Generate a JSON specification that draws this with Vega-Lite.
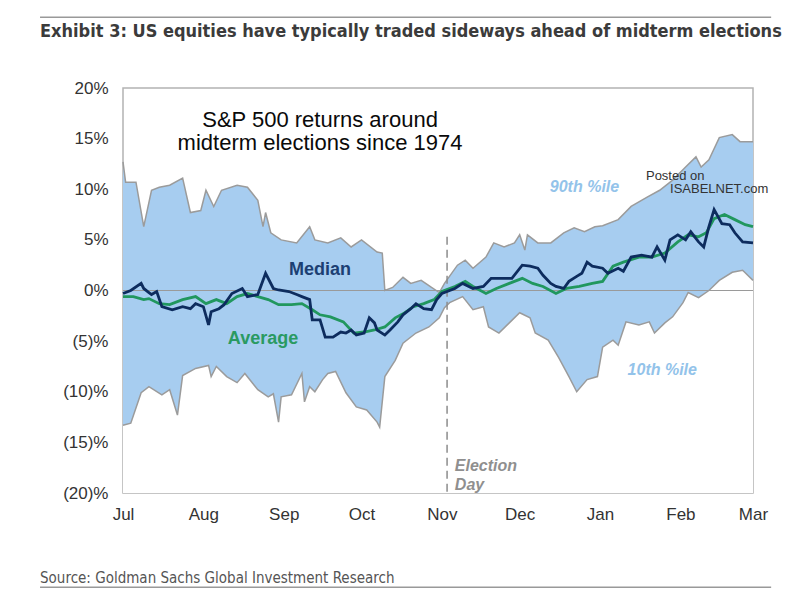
{
  "$schema": "https://vega.github.io/schema/vega-lite/v6.json",
  "width": 630,
  "height": 405,
  "autosize": {"type": "none"},
  "padding": {"left": 123, "top": 88, "right": 47, "bottom": 103},
  "background": "white",
  "data": {"values": [{}]},
  "config": {
    "view": {"stroke": "#b3b3b3", "strokeWidth": 1.5},
    "text": {"font": "Liberation Sans"}
  },
  "layer": [
    {
      "data": {
        "format": {"parse": {"date": "date:'%Y-%m-%d'"}},
        "values": [
          {"date": "2022-07-01", "v": 12.7}, {"date": "2022-07-02", "v": 10.7}, {"date": "2022-07-06", "v": 10.7},
          {"date": "2022-07-09", "v": 6.3}, {"date": "2022-07-12", "v": 9.9}, {"date": "2022-07-15", "v": 10.2},
          {"date": "2022-07-19", "v": 10.4}, {"date": "2022-07-24", "v": 11.1}, {"date": "2022-07-27", "v": 7.7},
          {"date": "2022-07-31", "v": 7.9}, {"date": "2022-08-02", "v": 9.9}, {"date": "2022-08-05", "v": 8.3},
          {"date": "2022-08-08", "v": 9.9}, {"date": "2022-08-14", "v": 10.4}, {"date": "2022-08-18", "v": 10.2},
          {"date": "2022-08-22", "v": 8.9}, {"date": "2022-08-24", "v": 6.3}, {"date": "2022-08-25", "v": 7.7},
          {"date": "2022-08-27", "v": 5.7}, {"date": "2022-08-31", "v": 5.0}, {"date": "2022-09-06", "v": 4.7},
          {"date": "2022-09-11", "v": 6.3}, {"date": "2022-09-13", "v": 5.0}, {"date": "2022-09-18", "v": 4.7},
          {"date": "2022-09-23", "v": 5.2}, {"date": "2022-09-27", "v": 4.3}, {"date": "2022-10-01", "v": 5.0},
          {"date": "2022-10-07", "v": 3.8}, {"date": "2022-10-09", "v": 3.7}, {"date": "2022-10-10", "v": 0.0},
          {"date": "2022-10-13", "v": 0.3}, {"date": "2022-10-17", "v": 1.3}, {"date": "2022-10-20", "v": 0.7},
          {"date": "2022-10-24", "v": 1.0}, {"date": "2022-10-28", "v": 0.3}, {"date": "2022-10-31", "v": -0.2},
          {"date": "2022-11-02", "v": 0.7}, {"date": "2022-11-07", "v": 2.5}, {"date": "2022-11-10", "v": 3.0},
          {"date": "2022-11-13", "v": 2.2}, {"date": "2022-11-18", "v": 3.3}, {"date": "2022-11-21", "v": 4.7},
          {"date": "2022-11-25", "v": 4.3}, {"date": "2022-11-29", "v": 4.7}, {"date": "2022-12-01", "v": 5.5},
          {"date": "2022-12-03", "v": 4.0}, {"date": "2022-12-04", "v": 5.5}, {"date": "2022-12-08", "v": 4.7},
          {"date": "2022-12-13", "v": 4.7}, {"date": "2022-12-18", "v": 5.7}, {"date": "2022-12-22", "v": 6.2},
          {"date": "2022-12-26", "v": 5.8}, {"date": "2022-12-30", "v": 6.3}, {"date": "2023-01-02", "v": 6.4},
          {"date": "2023-01-08", "v": 7.0}, {"date": "2023-01-13", "v": 8.3}, {"date": "2023-01-19", "v": 9.2},
          {"date": "2023-01-24", "v": 9.9}, {"date": "2023-01-29", "v": 10.9}, {"date": "2023-02-03", "v": 12.2},
          {"date": "2023-02-07", "v": 13.2}, {"date": "2023-02-09", "v": 12.2}, {"date": "2023-02-12", "v": 12.9},
          {"date": "2023-02-16", "v": 15.1}, {"date": "2023-02-21", "v": 15.4}, {"date": "2023-02-24", "v": 14.7},
          {"date": "2023-03-01", "v": 14.7}
        ]
      },
      "encoding": {
        "x": {
          "field": "date",
          "type": "temporal",
          "scale": {"domain": [{"year": 2022, "month": 7, "date": 1}, {"year": 2023, "month": 3, "date": 1}]},
          "axis": {
            "title": null,
            "format": "%b",
            "values": [
              {"year": 2022, "month": 7, "date": 1}, {"year": 2022, "month": 8, "date": 1},
              {"year": 2022, "month": 9, "date": 1}, {"year": 2022, "month": 10, "date": 1},
              {"year": 2022, "month": 11, "date": 1}, {"year": 2022, "month": 12, "date": 1},
              {"year": 2023, "month": 1, "date": 1}, {"year": 2023, "month": 2, "date": 1},
              {"year": 2023, "month": 3, "date": 1}
            ],
            "ticks": false,
            "domain": false,
            "grid": false,
            "labelFlush": false,
            "labelOverlap": false,
            "labelFont": "Liberation Sans",
            "labelFontSize": 17,
            "labelColor": "#333333",
            "labelPadding": 13
          }
        },
        "y": {
          "field": "v",
          "type": "quantitative",
          "scale": {"domain": [-20, 20], "nice": false, "zero": false},
          "axis": {
            "title": null,
            "values": [-20, -15, -10, -5, 0, 5, 10, 15, 20],
            "labelExpr": "datum.value < 0 ? '(' + abs(datum.value) + ')%' : datum.value + '%'",
            "ticks": false,
            "domain": false,
            "grid": false,
            "labelFont": "Liberation Sans",
            "labelFontSize": 17,
            "labelColor": "#333333",
            "labelPadding": 15
          }
        }
      },
      "layer": [
        {"mark": {"type": "area", "color": "#a7cdf0"}, "encoding": {"y2": {"datum": -20}}},
        {"mark": {"type": "line", "color": "#9b9b9b", "strokeWidth": 1.5}, "encoding": {}}
      ]
    },
    {
      "data": {
        "format": {"parse": {"date": "date:'%Y-%m-%d'"}},
        "values": [
          {"date": "2022-07-01", "v": -13.3}, {"date": "2022-07-04", "v": -13.1}, {"date": "2022-07-08", "v": -10.1},
          {"date": "2022-07-11", "v": -9.5}, {"date": "2022-07-16", "v": -10.3}, {"date": "2022-07-19", "v": -9.8},
          {"date": "2022-07-22", "v": -12.3}, {"date": "2022-07-24", "v": -8.4}, {"date": "2022-07-29", "v": -7.7},
          {"date": "2022-08-03", "v": -7.4}, {"date": "2022-08-04", "v": -8.5}, {"date": "2022-08-06", "v": -7.5},
          {"date": "2022-08-10", "v": -8.5}, {"date": "2022-08-14", "v": -9.1}, {"date": "2022-08-17", "v": -8.2},
          {"date": "2022-08-22", "v": -9.8}, {"date": "2022-08-26", "v": -10.5}, {"date": "2022-08-28", "v": -10.2},
          {"date": "2022-08-30", "v": -13.0}, {"date": "2022-08-31", "v": -10.5}, {"date": "2022-09-04", "v": -10.3},
          {"date": "2022-09-08", "v": -8.2}, {"date": "2022-09-09", "v": -11.0}, {"date": "2022-09-11", "v": -9.5},
          {"date": "2022-09-13", "v": -10.0}, {"date": "2022-09-16", "v": -8.8}, {"date": "2022-09-18", "v": -8.2},
          {"date": "2022-09-21", "v": -8.0}, {"date": "2022-09-25", "v": -10.1}, {"date": "2022-09-29", "v": -11.5},
          {"date": "2022-10-03", "v": -11.8}, {"date": "2022-10-07", "v": -13.0}, {"date": "2022-10-08", "v": -13.5},
          {"date": "2022-10-10", "v": -8.5}, {"date": "2022-10-14", "v": -6.9}, {"date": "2022-10-17", "v": -5.2},
          {"date": "2022-10-22", "v": -4.2}, {"date": "2022-10-27", "v": -3.6}, {"date": "2022-10-31", "v": -2.7},
          {"date": "2022-11-02", "v": -1.7}, {"date": "2022-11-04", "v": -1.2}, {"date": "2022-11-09", "v": -0.6},
          {"date": "2022-11-13", "v": -1.9}, {"date": "2022-11-17", "v": -1.6}, {"date": "2022-11-19", "v": -3.6},
          {"date": "2022-11-23", "v": -4.2}, {"date": "2022-11-27", "v": -3.2}, {"date": "2022-12-01", "v": -2.2},
          {"date": "2022-12-05", "v": -2.7}, {"date": "2022-12-07", "v": -4.2}, {"date": "2022-12-12", "v": -4.9},
          {"date": "2022-12-16", "v": -6.6}, {"date": "2022-12-20", "v": -8.5}, {"date": "2022-12-23", "v": -10.0},
          {"date": "2022-12-27", "v": -8.8}, {"date": "2022-12-31", "v": -8.5}, {"date": "2023-01-02", "v": -5.6},
          {"date": "2023-01-06", "v": -4.9}, {"date": "2023-01-08", "v": -5.4}, {"date": "2023-01-11", "v": -3.1},
          {"date": "2023-01-16", "v": -3.4}, {"date": "2023-01-20", "v": -3.1}, {"date": "2023-01-22", "v": -4.2},
          {"date": "2023-01-26", "v": -3.2}, {"date": "2023-01-29", "v": -2.6}, {"date": "2023-02-02", "v": -1.2},
          {"date": "2023-02-04", "v": -0.2}, {"date": "2023-02-08", "v": -0.7}, {"date": "2023-02-12", "v": 0.0},
          {"date": "2023-02-16", "v": 1.0}, {"date": "2023-02-21", "v": 1.8}, {"date": "2023-02-25", "v": 2.0},
          {"date": "2023-03-01", "v": 1.0}
        ]
      },
      "encoding": {
        "x": {"field": "date", "type": "temporal"},
        "y": {"field": "v", "type": "quantitative"}
      },
      "layer": [
        {"mark": {"type": "area", "color": "white"}, "encoding": {"y2": {"datum": -20}}},
        {"mark": {"type": "line", "color": "#9b9b9b", "strokeWidth": 1.5}, "encoding": {}}
      ]
    },
    {
      "mark": {"type": "rule", "color": "#9a9a9a", "strokeWidth": 1},
      "encoding": {"y": {"datum": 0}}
    },
    {
      "mark": {"type": "rule", "color": "#8c8c8c", "strokeWidth": 1.5, "strokeDash": [8, 5]},
      "encoding": {
        "x": {"datum": {"year": 2022, "month": 11, "date": 3}, "type": "temporal"},
        "y": {"datum": 5.3},
        "y2": {"datum": -20}
      }
    },
    {
      "data": {
        "format": {"parse": {"date": "date:'%Y-%m-%d'"}},
        "values": [
          {"date": "2022-07-01", "v": -0.6}, {"date": "2022-07-05", "v": -0.6}, {"date": "2022-07-09", "v": -0.9},
          {"date": "2022-07-11", "v": -0.8}, {"date": "2022-07-15", "v": -1.3}, {"date": "2022-07-19", "v": -1.4},
          {"date": "2022-07-24", "v": -0.9}, {"date": "2022-07-29", "v": -0.6}, {"date": "2022-08-02", "v": -1.3},
          {"date": "2022-08-06", "v": -0.9}, {"date": "2022-08-10", "v": -1.3}, {"date": "2022-08-14", "v": -0.6},
          {"date": "2022-08-18", "v": -0.3}, {"date": "2022-08-22", "v": -0.6}, {"date": "2022-08-26", "v": -0.9},
          {"date": "2022-08-30", "v": -1.4}, {"date": "2022-09-04", "v": -1.4}, {"date": "2022-09-08", "v": -1.3},
          {"date": "2022-09-12", "v": -1.9}, {"date": "2022-09-15", "v": -2.4}, {"date": "2022-09-19", "v": -2.6},
          {"date": "2022-09-24", "v": -3.1}, {"date": "2022-09-28", "v": -4.2}, {"date": "2022-10-02", "v": -4.1},
          {"date": "2022-10-06", "v": -3.9}, {"date": "2022-10-10", "v": -3.6}, {"date": "2022-10-14", "v": -2.7},
          {"date": "2022-10-17", "v": -2.3}, {"date": "2022-10-21", "v": -1.6}, {"date": "2022-10-25", "v": -1.3},
          {"date": "2022-10-29", "v": -0.9}, {"date": "2022-11-01", "v": -0.1}, {"date": "2022-11-06", "v": 0.4},
          {"date": "2022-11-10", "v": 0.9}, {"date": "2022-11-13", "v": 0.4}, {"date": "2022-11-18", "v": -0.3},
          {"date": "2022-11-22", "v": 0.2}, {"date": "2022-11-27", "v": 0.7}, {"date": "2022-12-02", "v": 1.2},
          {"date": "2022-12-06", "v": 0.7}, {"date": "2022-12-10", "v": 0.4}, {"date": "2022-12-15", "v": -0.3},
          {"date": "2022-12-19", "v": 0.2}, {"date": "2022-12-24", "v": 0.4}, {"date": "2022-12-29", "v": 0.7},
          {"date": "2023-01-02", "v": 0.9}, {"date": "2023-01-06", "v": 2.4}, {"date": "2023-01-10", "v": 2.8},
          {"date": "2023-01-16", "v": 3.3}, {"date": "2023-01-21", "v": 3.3}, {"date": "2023-01-26", "v": 3.7},
          {"date": "2023-01-31", "v": 4.8}, {"date": "2023-02-04", "v": 5.5}, {"date": "2023-02-08", "v": 5.3},
          {"date": "2023-02-11", "v": 5.7}, {"date": "2023-02-14", "v": 7.1}, {"date": "2023-02-18", "v": 7.5},
          {"date": "2023-02-22", "v": 7.0}, {"date": "2023-02-26", "v": 6.5}, {"date": "2023-03-01", "v": 6.3}
        ]
      },
      "mark": {"type": "line", "color": "#21975e", "strokeWidth": 2.8},
      "encoding": {
        "x": {"field": "date", "type": "temporal"},
        "y": {"field": "v", "type": "quantitative"}
      }
    },
    {
      "data": {
        "format": {"parse": {"date": "date:'%Y-%m-%d'"}},
        "values": [
          {"date": "2022-07-01", "v": -0.3}, {"date": "2022-07-04", "v": 0.0}, {"date": "2022-07-08", "v": 0.7},
          {"date": "2022-07-09", "v": 0.2}, {"date": "2022-07-11", "v": -0.2}, {"date": "2022-07-12", "v": -0.4},
          {"date": "2022-07-14", "v": -0.1}, {"date": "2022-07-16", "v": -1.6}, {"date": "2022-07-20", "v": -1.9},
          {"date": "2022-07-24", "v": -1.6}, {"date": "2022-07-27", "v": -1.8}, {"date": "2022-07-29", "v": -1.3},
          {"date": "2022-08-01", "v": -1.6}, {"date": "2022-08-03", "v": -3.4}, {"date": "2022-08-04", "v": -2.1},
          {"date": "2022-08-07", "v": -1.8}, {"date": "2022-08-09", "v": -1.4}, {"date": "2022-08-12", "v": -0.3},
          {"date": "2022-08-16", "v": 0.2}, {"date": "2022-08-18", "v": -0.6}, {"date": "2022-08-22", "v": -0.4},
          {"date": "2022-08-25", "v": 1.7}, {"date": "2022-08-28", "v": 0.2}, {"date": "2022-08-30", "v": 0.05},
          {"date": "2022-09-03", "v": -0.1}, {"date": "2022-09-06", "v": -0.4}, {"date": "2022-09-08", "v": -0.6},
          {"date": "2022-09-11", "v": -0.9}, {"date": "2022-09-12", "v": -2.9}, {"date": "2022-09-15", "v": -2.9},
          {"date": "2022-09-17", "v": -4.6}, {"date": "2022-09-20", "v": -4.6}, {"date": "2022-09-23", "v": -4.1},
          {"date": "2022-09-25", "v": -4.2}, {"date": "2022-09-27", "v": -3.9}, {"date": "2022-09-29", "v": -4.4},
          {"date": "2022-10-02", "v": -4.2}, {"date": "2022-10-04", "v": -2.7}, {"date": "2022-10-06", "v": -3.2},
          {"date": "2022-10-07", "v": -3.9}, {"date": "2022-10-10", "v": -4.4}, {"date": "2022-10-12", "v": -3.9},
          {"date": "2022-10-15", "v": -3.1}, {"date": "2022-10-17", "v": -2.4}, {"date": "2022-10-20", "v": -1.8},
          {"date": "2022-10-22", "v": -1.3}, {"date": "2022-10-25", "v": -1.8}, {"date": "2022-10-28", "v": -1.9},
          {"date": "2022-10-30", "v": -0.9}, {"date": "2022-11-01", "v": -0.3}, {"date": "2022-11-06", "v": 0.2},
          {"date": "2022-11-09", "v": 0.7}, {"date": "2022-11-13", "v": 0.2}, {"date": "2022-11-17", "v": 0.4},
          {"date": "2022-11-20", "v": 1.2}, {"date": "2022-11-24", "v": 1.2}, {"date": "2022-11-28", "v": 1.2},
          {"date": "2022-12-02", "v": 2.5}, {"date": "2022-12-05", "v": 2.4}, {"date": "2022-12-08", "v": 2.2},
          {"date": "2022-12-10", "v": 1.5}, {"date": "2022-12-13", "v": 0.7}, {"date": "2022-12-15", "v": 0.4},
          {"date": "2022-12-18", "v": 0.2}, {"date": "2022-12-20", "v": 0.9}, {"date": "2022-12-23", "v": 1.4},
          {"date": "2022-12-25", "v": 1.7}, {"date": "2022-12-27", "v": 2.8}, {"date": "2022-12-29", "v": 2.4},
          {"date": "2023-01-02", "v": 2.2}, {"date": "2023-01-04", "v": 1.7}, {"date": "2023-01-08", "v": 2.2},
          {"date": "2023-01-10", "v": 1.9}, {"date": "2023-01-13", "v": 3.3}, {"date": "2023-01-17", "v": 3.5},
          {"date": "2023-01-21", "v": 3.3}, {"date": "2023-01-23", "v": 4.3}, {"date": "2023-01-26", "v": 3.0},
          {"date": "2023-01-28", "v": 5.0}, {"date": "2023-01-31", "v": 5.5}, {"date": "2023-02-03", "v": 5.0},
          {"date": "2023-02-05", "v": 5.8}, {"date": "2023-02-08", "v": 4.8}, {"date": "2023-02-10", "v": 4.3},
          {"date": "2023-02-12", "v": 6.3}, {"date": "2023-02-14", "v": 8.0}, {"date": "2023-02-17", "v": 6.6},
          {"date": "2023-02-20", "v": 6.5}, {"date": "2023-02-22", "v": 5.7}, {"date": "2023-02-25", "v": 4.8},
          {"date": "2023-03-01", "v": 4.7}
        ]
      },
      "mark": {"type": "line", "color": "#0d2c5e", "strokeWidth": 2.8},
      "encoding": {
        "x": {"field": "date", "type": "temporal"},
        "y": {"field": "v", "type": "quantitative"}
      }
    },
    {
      "mark": {"type": "text", "text": "Exhibit 3: US equities have typically traded sideways ahead of midterm elections", "font": "Liberation Sans Narrow, DejaVu Sans Condensed, sans-serif", "fontSize": 18, "fontWeight": "bold", "align": "left", "baseline": "alphabetic", "color": "#3b3b3b"},
      "encoding": {
        "x": {"datum": {"year": 2022, "month": 5, "date": 30}, "type": "temporal"},
        "y": {"datum": 25.05}
      }
    },
    {
      "mark": {"type": "text", "text": ["S&P 500 returns around", "midterm elections since 1974"], "fontSize": 22, "lineHeight": 23, "align": "center", "baseline": "alphabetic", "color": "#0a0a0a"},
      "encoding": {
        "x": {"datum": {"year": 2022, "month": 9, "date": 15}, "type": "temporal"},
        "y": {"datum": 16.15}
      }
    },
    {
      "mark": {"type": "text", "text": "Median", "fontSize": 18, "fontWeight": "bold", "align": "center", "baseline": "alphabetic", "color": "#1c3f73"},
      "encoding": {
        "x": {"datum": {"year": 2022, "month": 9, "date": 15}, "type": "temporal"},
        "y": {"datum": 1.5}
      }
    },
    {
      "mark": {"type": "text", "text": "Average", "fontSize": 18, "fontWeight": "bold", "align": "center", "baseline": "alphabetic", "color": "#2a9a62"},
      "encoding": {
        "x": {"datum": {"year": 2022, "month": 8, "date": 24}, "type": "temporal"},
        "y": {"datum": -5.3}
      }
    },
    {
      "mark": {"type": "text", "text": "90th %ile", "fontSize": 16, "fontWeight": "bold", "fontStyle": "italic", "align": "center", "baseline": "alphabetic", "color": "#93c3ea"},
      "encoding": {
        "x": {"datum": {"year": 2022, "month": 12, "date": 26}, "type": "temporal"},
        "y": {"datum": 9.7}
      }
    },
    {
      "mark": {"type": "text", "text": "10th %ile", "fontSize": 16, "fontWeight": "bold", "fontStyle": "italic", "align": "center", "baseline": "alphabetic", "color": "#93c3ea"},
      "encoding": {
        "x": {"datum": {"year": 2023, "month": 1, "date": 25}, "type": "temporal"},
        "y": {"datum": -8.35}
      }
    },
    {
      "mark": {"type": "text", "text": ["Election", "Day"], "fontSize": 16, "lineHeight": 19, "fontWeight": "bold", "fontStyle": "italic", "align": "left", "baseline": "alphabetic", "color": "#8f8f8f"},
      "encoding": {
        "x": {"datum": {"year": 2022, "month": 11, "date": 6}, "type": "temporal"},
        "y": {"datum": -17.84}
      }
    },
    {
      "mark": {"type": "text", "text": "Posted on", "fontSize": 13, "align": "center", "baseline": "alphabetic", "color": "#333333"},
      "encoding": {
        "x": {"datum": {"year": 2023, "month": 1, "date": 30}, "type": "temporal"},
        "y": {"datum": 10.9}
      }
    },
    {
      "mark": {"type": "text", "text": "ISABELNET.com", "fontSize": 13, "align": "left", "baseline": "alphabetic", "color": "#333333"},
      "encoding": {
        "x": {"datum": {"year": 2023, "month": 1, "date": 28}, "type": "temporal"},
        "y": {"datum": 9.6}
      }
    },
    {
      "mark": {"type": "text", "text": "Source: Goldman Sachs Global Investment Research", "font": "Liberation Sans Narrow, DejaVu Sans Condensed, sans-serif", "fontSize": 15, "align": "left", "baseline": "middle", "color": "#555555"},
      "encoding": {
        "x": {"datum": {"year": 2022, "month": 5, "date": 30}, "type": "temporal"},
        "y": {"datum": -28.4}
      }
    },
    {
      "mark": {"type": "rule", "color": "#999999", "strokeWidth": 1.5},
      "encoding": {
        "x": {"datum": {"year": 2022, "month": 5, "date": 30}, "type": "temporal"},
        "x2": {"datum": {"year": 2023, "month": 3, "date": 8}},
        "y": {"datum": 27.0}
      }
    },
    {
      "mark": {"type": "rule", "color": "#999999", "strokeWidth": 1.5},
      "encoding": {
        "x": {"datum": {"year": 2022, "month": 5, "date": 30}, "type": "temporal"},
        "x2": {"datum": {"year": 2023, "month": 3, "date": 8}},
        "y": {"datum": -29.3}
      }
    }
  ]
}
